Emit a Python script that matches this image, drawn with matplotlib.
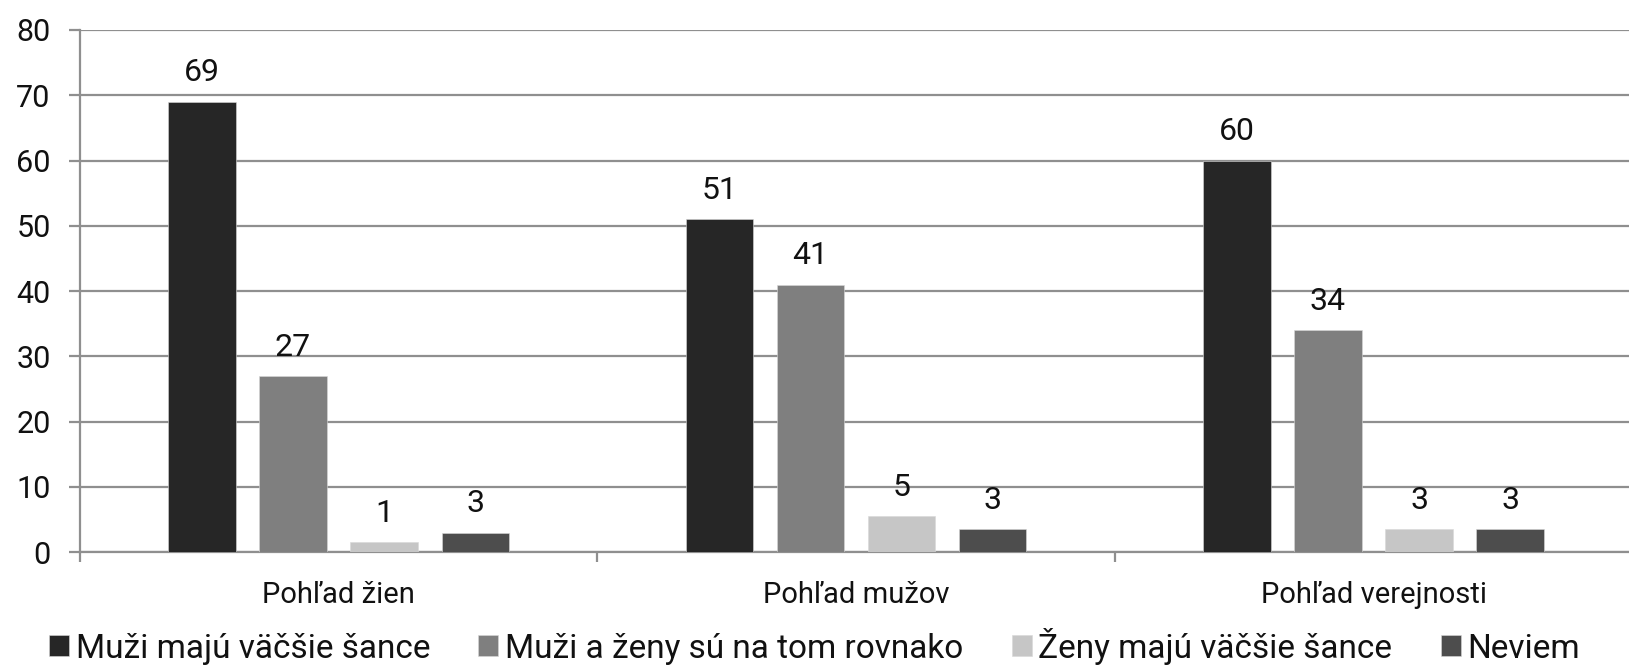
import numpy as np
import matplotlib
matplotlib.use('Agg')
import matplotlib.pyplot as plt

plt.rcParams['font.family'] = ['Roboto', 'DejaVu Sans']

categories = ["Pohľad žien", "Pohľad mužov", "Pohľad verejnosti"]
series = ["Muži majú väčšie šance", "Muži a ženy sú na tom rovnako",
          "Ženy majú väčšie šance", "Neviem"]
values = [
    [69, 51, 60],
    [27, 41, 34],
    [1, 5, 3],
    [3, 3, 3],
]
# bar heights as drawn (small bars look slightly taller than their label)
heights = [
    [69, 51, 60],
    [27, 41, 34],
    [1.5, 5.5, 3.5],
    [3, 3.5, 3.5],
]
colors = ['#262626', '#7f7f7f', '#c6c6c6', '#4d4d4d']

grid_c = '#8f8f8f'
txt_c = '#111111'

fig = plt.figure(figsize=(16.29, 6.66), dpi=100)
ax = fig.add_axes([0.049, 0.171, 0.953, 0.784])

x = np.arange(len(categories))
step = 0.176
w = 0.13
for i, s in enumerate(series):
    pos = x + (i - 1.5) * step
    ax.bar(pos, heights[i], width=w, color=colors[i], label=s, zorder=3,
           edgecolor='#d8d8d8', linewidth=0.4)
    for px, h, v in zip(pos, heights[i], values[i]):
        ax.text(px, h + 2.2, str(v), ha='center', va='bottom',
                fontsize=23, color=txt_c)

ax.set_xlim(-0.5, 2.5)
ax.set_ylim(0, 80)
ax.set_yticks(np.arange(0, 81, 10))
ax.yaxis.grid(True, color=grid_c, linewidth=1.6, zorder=0)
ax.set_axisbelow(True)

ax.set_xticks(x)
ax.set_xticklabels(categories)
ax.set_xticks([-0.5, 0.5, 1.5, 2.5], minor=True)
ax.tick_params(axis='x', which='major', length=0, pad=21, labelsize=21,
               labelcolor=txt_c)
ax.tick_params(axis='x', which='minor', length=7, width=1.6, color=grid_c)
ax.tick_params(axis='y', length=8, width=1.6, color=grid_c, pad=13,
               labelsize=22, labelcolor=txt_c)

for sp in ['top', 'right']:
    ax.spines[sp].set_visible(False)
for sp in ['left', 'bottom']:
    ax.spines[sp].set_color(grid_c)
    ax.spines[sp].set_linewidth(1.6)

fig.legend(loc='center', bbox_to_anchor=(0.5, 0.03), ncol=4, frameon=False,
           fontsize=24, handlelength=0.6, handleheight=0.6, handletextpad=0.2,
           columnspacing=1.45, labelcolor=txt_c)

fig.savefig('out.png', dpi=100)
